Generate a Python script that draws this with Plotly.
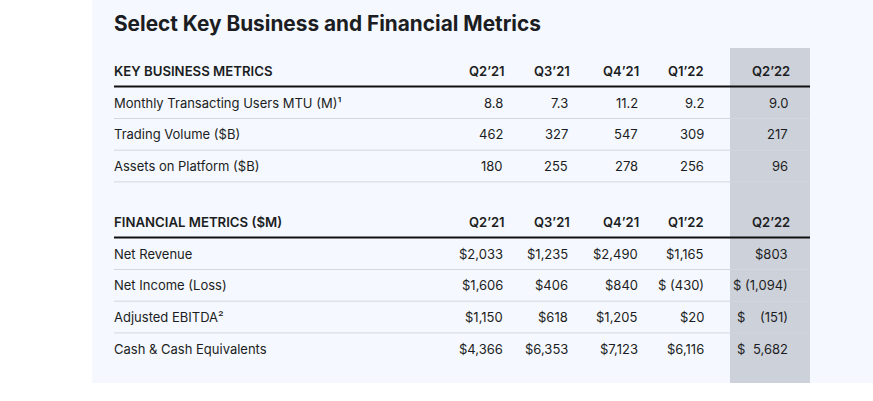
import plotly.graph_objects as go

# data
title = "Select Key Business and Financial Metrics"
quarters = ["Q2’21", "Q3’21", "Q4’21", "Q1’22", "Q2’22"]

business_header = "KEY BUSINESS METRICS"
business_labels = ["Monthly Transacting Users MTU (M)¹", "Trading Volume ($B)", "Assets on Platform ($B)"]
mtu = ["8.8", "7.3", "11.2", "9.2", "9.0"]
trading_volume = ["462", "327", "547", "309", "217"]
assets_on_platform = ["180", "255", "278", "256", "96"]

financial_header = "FINANCIAL METRICS ($M)"
financial_labels = ["Net Revenue", "Net Income (Loss)", "Adjusted EBITDA²", "Cash & Cash Equivalents"]
net_revenue = ["$2,033", "$1,235", "$2,490", "$1,165", "$803"]
net_income = ["$1,606", "$406", "$840", "$ (430)", "$ (1,094)"]
adjusted_ebitda = ["$1,150", "$618", "$1,205", "$20", "$ (151)"]
cash = ["$4,366", "$6,353", "$7,123", "$6,116", "$ 5,682"]

sections = [
    (business_header, business_labels, [mtu, trading_volume, assets_on_platform]),
    (financial_header, financial_labels, [net_revenue, net_income, adjusted_ebitda, cash]),
]

# layout (axes in window pixels)
W, H = 873, 401
PANEL = dict(x0=92, x1=873, y0=0, y1=383)
HILITE = dict(x0=730, x1=810, y0=48, y1=383)
LEFT = 114
RIGHT = 810
col_right = [504, 569, 639, 705, 789]
head_right = [506, 571, 640, 705, 791]
dollar_left = 735.5
section_top = [71, 222]
row_step = 31.7

TEXT = "#1b1d22"
FONT = "Inter"

fig = go.Figure()
shapes = [
    dict(type="rect", xref="x", yref="y", layer="below", line_width=0, fillcolor="#f5f8fe", **PANEL),
    dict(type="rect", xref="x", yref="y", layer="below", line_width=0, fillcolor="#cdd1da", **HILITE),
]
ann = []

ann.append(dict(x=LEFT - 1.5, y=23, text=title, xanchor="left", yanchor="middle",
                font=dict(size=20.8, color=TEXT, family=FONT, weight=700)))

for s, ((header, labels, rows), top) in enumerate(zip(sections, section_top)):
    ann.append(dict(x=LEFT - 1.5, y=top, text=header, xanchor="left", yanchor="middle",
                    font=dict(size=13.2, color=TEXT, family=FONT, weight=600)))
    for q, xr in zip(quarters, head_right):
        ann.append(dict(x=xr, y=top, text=q, xanchor="right", yanchor="middle",
                        font=dict(size=13, color=TEXT, family=FONT, weight=600)))
    shapes.append(dict(type="line", xref="x", yref="y", x0=LEFT, x1=RIGHT,
                       y0=top + 15.5, y1=top + 15.5, line=dict(color="#111111", width=2)))
    for i, (label, vals) in enumerate(zip(labels, rows)):
        y = top + row_step * (i + 1)
        ann.append(dict(x=LEFT - 1.5, y=y, text=label, xanchor="left", yanchor="middle",
                        font=dict(size=13, color=TEXT, family=FONT)))
        for j, (v, xr) in enumerate(zip(vals, col_right)):
            if j == len(vals) - 1 and v.startswith("$ ") and len(v) <= 7:
                ann.append(dict(x=dollar_left, y=y, text="$", xanchor="left", yanchor="middle",
                                font=dict(size=13, color=TEXT, family=FONT)))
                v = v[2:]
            ann.append(dict(x=xr, y=y, text=v.replace(" ", "\u00a0"), xanchor="right", yanchor="middle",
                            font=dict(size=13, color=TEXT, family=FONT)))
        # no rule under the very last row
        if not (s == len(sections) - 1 and i == len(labels) - 1):
            shapes.append(dict(type="line", xref="x", yref="y", x0=LEFT, x1=RIGHT,
                               y0=y + 15.8, y1=y + 15.8, line=dict(color="#d3d7de", width=1)))

for a in ann:
    a.update(xref="x", yref="y", showarrow=False, borderpad=0)

fig.update_layout(
    width=W, height=H,
    margin=dict(l=0, r=0, t=0, b=0),
    paper_bgcolor="white",
    plot_bgcolor="white",
    xaxis=dict(range=[0, W], visible=False, fixedrange=True),
    yaxis=dict(range=[H, 0], visible=False, fixedrange=True),
    shapes=shapes,
    annotations=ann,
    showlegend=False,
)

fig.write_html("out.html", config=dict(displayModeBar=False),
               post_script="document.body.style.margin='0';document.body.style.overflow='hidden';")
